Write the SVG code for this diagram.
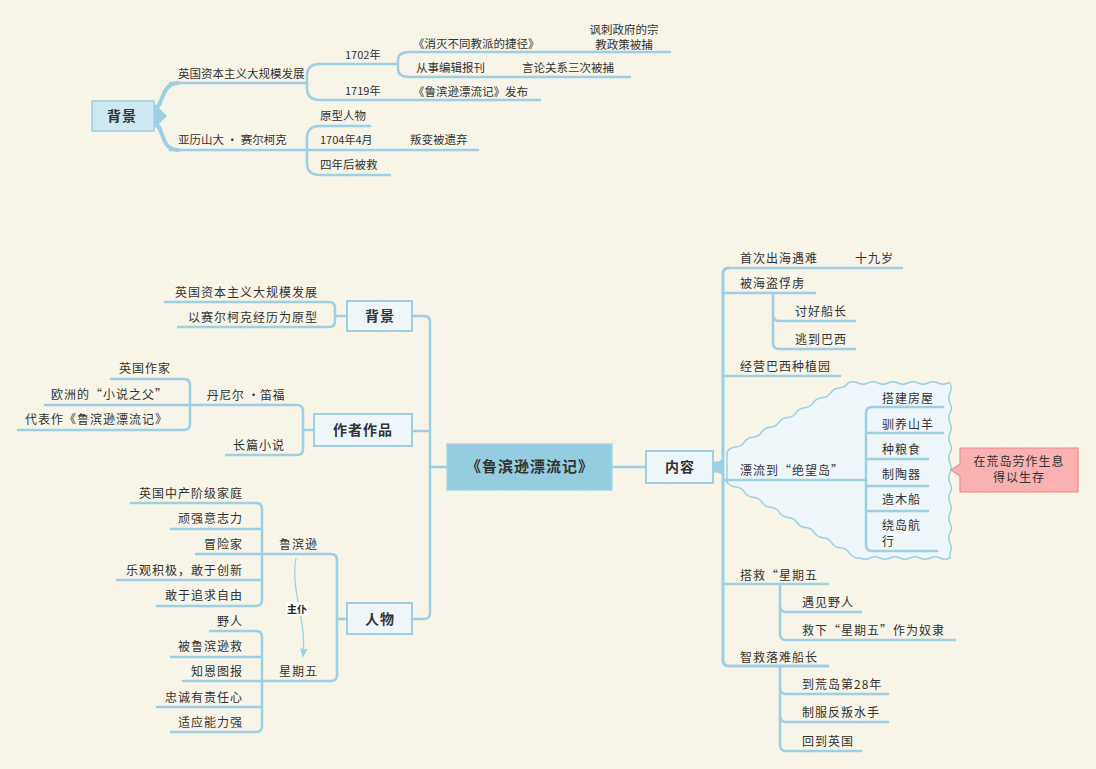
<svg xmlns="http://www.w3.org/2000/svg" width="1096" height="769" viewBox="0 0 1096 769">
<defs>
<style>
.ln{fill:none;stroke:#9dd0e2;stroke-width:2.5;stroke-linecap:round;stroke-linejoin:round}
.t{font-family:"Noto Sans CJK SC","Noto Sans",sans-serif;font-size:12px;fill:#333;letter-spacing:1px}
.ts{font-family:"Noto Sans CJK SC","Noto Sans",sans-serif;font-size:11.5px;fill:#333}
.e{text-anchor:end}
.m{text-anchor:middle}
.box{fill:#eef6fa;stroke:#9dd0e2;stroke-width:2}
.bt{font-family:"Noto Sans CJK SC","Noto Sans",sans-serif;font-size:14px;font-weight:bold;fill:#333;text-anchor:middle;letter-spacing:1px}
</style>
<marker id="arr" viewBox="0 0 10 10" refX="8" refY="5" markerWidth="7" markerHeight="7" orient="auto">
<path d="M0,1 L10,5 L0,9 Z" fill="#9dd0e2"/>
</marker>
<filter id="noise" x="0" y="0" width="100%" height="100%">
<feTurbulence type="fractalNoise" baseFrequency="0.9" numOctaves="2" seed="3"/>
<feColorMatrix type="matrix" values="0 0 0 0 0.6  0 0 0 0 0.55  0 0 0 0 0.45  0 0 0 0.08 0"/>
</filter>
</defs>
<rect width="1096" height="769" fill="#f9f6ea"/>
<rect width="1096" height="769" filter="url(#noise)"/>

<g id="connectors">
<!-- top section -->
<path d="M154,103 L167,116 L154,129 Z" fill="#9dd0e2"/>
<path class="ln" style="stroke-width:4" d="M155,108 C164,106 160,84 178,83"/>
<path class="ln" style="stroke-width:4" d="M155,124 C164,126 160,150 178,150"/>
<path class="ln" d="M170,83 L307,83"/>
<path class="ln" d="M320,64 Q307,64 307,76 L307,88 Q307,100 320,100 L540,100"/>
<path class="ln" d="M320,64 L398,64"/>
<path class="ln" d="M410,52 Q398,52 398,60 L398,69 Q398,77 410,77 L630,77"/>
<path class="ln" d="M410,52 L670,52"/>
<path class="ln" d="M170,150 L478,150"/>
<path class="ln" d="M320,126 Q307,126 307,138 L307,163 Q307,175 320,175 L390,175"/>
<path class="ln" d="M320,126 L370,126"/>
<!-- main left -->
<path class="ln" d="M413,316 L424,316 Q430,316 430,322 L430,613 Q430,619 424,619 L413,619"/>
<path class="ln" d="M413,431 L430,431"/>
<path class="ln" d="M430,467 L447,467"/>
<path class="ln" d="M347,316 L335,316"/>
<path class="ln" d="M165,302 L329,302 Q335,302 335,308 L335,321 Q335,327 329,327 L178,327"/>
<path class="ln" d="M314,430 L303,430"/>
<path class="ln" d="M45,405 L297,405 Q303,405 303,411 L303,449 Q303,455 297,455 L226,455"/>
<path class="ln" d="M111,379 L184,379 Q190,379 190,385 L190,424 Q190,430 184,430 L18,430"/>
<path class="ln" d="M347,619 L337,619"/>
<path class="ln" d="M196,554 L331,554 Q337,554 337,560 L337,675 Q337,681 331,681 L183,681"/>
<path class="ln" d="M131,503 L256,503 Q262,503 262,509 L262,600 Q262,606 256,606 L157,606"/>
<path class="ln" d="M171,529 L262,529"/>
<path class="ln" d="M117,580 L262,580"/>
<path class="ln" d="M210,631 L256,631 Q262,631 262,637 L262,726 Q262,732 256,732 L171,732"/>
<path class="ln" d="M171,657 L262,657"/>
<path class="ln" d="M157,707 L262,707"/>
<path d="M296,558 C290,590 307,620 303,656" fill="none" stroke="#9dd0e2" stroke-width="1.3" marker-end="url(#arr)"/>
<!-- main right -->
<path class="ln" d="M612,467 L646,467"/>
<path d="M713,461 Q719,463 723,458 L723,476 Q719,471 713,473 Z" fill="#9dd0e2"/>
<path d="M727,452 q3.08,-4.63 8.64,-4.93 t8.64,-4.93 t8.64,-4.93 t8.64,-4.93 t8.64,-4.93 t8.64,-4.93 t8.64,-4.93 t8.64,-4.93 t8.64,-4.93 t8.64,-4.93 t8.64,-4.93 t8.64,-4.93 t8.64,-4.93 t8.64,-4.93 q5,-2.5 10,0 t10,0 t10,0 t10,0 t10,0 t10,0 t10,0 t10,0 t10,0 t10,0 L950,383 q2.5,5 0,10 t0,10 t0,10 t0,10 t0,10 t0,10 t0,10 t0,10 t0,10 t0,10 t0,10 t0,10 t0,10 t0,10 t0,10 t0,10 t0,10 L950,558 q-5,2.5 -10,0 t-10,0 t-10,0 t-10,0 t-10,0 t-10,0 t-10,0 t-10,0 t-10,0 L858,558 q-5.63,-0.36 -8.73,-5.07 t-8.73,-5.07 t-8.73,-5.07 t-8.73,-5.07 t-8.73,-5.07 t-8.73,-5.07 t-8.73,-5.07 t-8.73,-5.07 t-8.73,-5.07 t-8.73,-5.07 t-8.73,-5.07 t-8.73,-5.07 t-8.73,-5.07 t-8.73,-5.07 t-8.73,-5.07 L727,482 Z" fill="#eef6fa" stroke="#9dd0e2" stroke-width="1.5"/>
<path class="ln" style="stroke-width:3" d="M729,268 Q723,268 723,274 L723,660 Q723,666 729,666 L828,666"/>
<path class="ln" d="M729,268 L902,268"/>
<path class="ln" d="M723,293 L815,293"/>
<path class="ln" d="M723,376 L840,376"/>
<path class="ln" d="M723,480 L866,480"/>
<path class="ln" d="M723,584 L828,584"/>
<path class="ln" d="M773,293 L773,343 Q773,349 779,349 L855,349"/>
<path class="ln" d="M773,315 Q773,321 779,321 L855,321"/>
<path class="ln" d="M780,584 L780,634 Q780,640 786,640 L955,640"/>
<path class="ln" d="M780,606 Q780,612 786,612 L861,612"/>
<path class="ln" d="M780,666 L780,745 Q780,751 786,751 L861,751"/>
<path class="ln" d="M780,688 Q780,694 786,694 L888,694"/>
<path class="ln" d="M780,716 Q780,722 786,722 L888,722"/>
<path class="ln" d="M872,407 Q866,407 866,413 L866,545 Q866,551 872,551 L937,551"/>
<path class="ln" d="M872,407 L943,407"/>
<path class="ln" d="M866,433 L943,433"/>
<path class="ln" d="M866,459 L928,459"/>
<path class="ln" d="M866,486 L928,486"/>
<path class="ln" d="M866,511 L928,511"/>
</g>

<g id="top-bg">
<rect x="92" y="101" width="62" height="30" fill="#cde8f0" stroke="#9dd0e2" stroke-width="1.5"/>
<text class="bt" x="122" y="121">背景</text>
</g>
<g id="top-texts">
<text class="ts" x="178" y="78">英国资本主义大规模发展</text>
<text class="ts" x="178" y="144">亚历山大 · 赛尔柯克</text>
<text class="ts" x="345" y="59" style="font-size:11px">1702年</text>
<text class="ts" x="345" y="95" style="font-size:11px">1719年</text>
<text class="ts" x="413" y="48">《消灭不同教派的捷径》</text>
<text class="ts m" x="624" y="34">讽刺政府的宗</text>
<text class="ts m" x="624" y="49">教政策被捕</text>
<text class="ts" x="416" y="72">从事编辑报刊</text>
<text class="ts" x="522" y="72">言论关系三次被捕</text>
<text class="ts" x="413" y="96">《鲁滨逊漂流记》发布</text>
<text class="ts" x="320" y="120">原型人物</text>
<text class="ts" x="320" y="144" style="font-size:11px">1704年4月</text>
<text class="ts" x="410" y="144">叛变被遗弃</text>
<text class="ts" x="320" y="169">四年后被救</text>
</g>

<g id="root">
<rect x="447" y="444" width="165" height="46" fill="#95cde0" stroke="#a6d5e6" stroke-width="1.5"/>
<text class="bt" x="530" y="472" style="font-size:15px">《鲁滨逊漂流记》</text>
</g>
<g id="n-bg">
<rect class="box" x="347" y="301" width="65" height="30"/>
<text class="bt" x="380" y="321">背景</text>
<text class="t e" x="318" y="297">英国资本主义大规模发展</text>
<text class="t e" x="318" y="322">以赛尔柯克经历为原型</text>
</g>
<g id="n-author">
<rect class="box" x="314" y="414" width="98" height="32"/>
<text class="bt" x="363" y="435">作者作品</text>
<text class="t e" x="285" y="400" style="letter-spacing:0.5px">丹尼尔 ·笛福</text>
<text class="t e" x="285" y="450">长篇小说</text>
<text class="t e" x="171" y="373">英国作家</text>
<text class="t e" x="168" y="399">欧洲的“小说之父”</text>
<text class="t e" x="168" y="424">代表作《鲁滨逊漂流记》</text>
</g>
<g id="n-people">
<rect class="box" x="347" y="603" width="65" height="31"/>
<text class="bt" x="380" y="624">人物</text>
<text class="t e" x="318" y="549">鲁滨逊</text>
<text class="t e" x="318" y="676">星期五</text>
<text class="t e" x="243" y="498">英国中产阶级家庭</text>
<text class="t e" x="243" y="523">顽强意志力</text>
<text class="t e" x="243" y="549">冒险家</text>
<text class="t e" x="243" y="575">乐观积极，敢于创新</text>
<text class="t e" x="243" y="600">敢于追求自由</text>
<text class="t e" x="243" y="626">野人</text>
<text class="t e" x="243" y="651">被鲁滨逊救</text>
<text class="t e" x="243" y="676">知恩图报</text>
<text class="t e" x="243" y="702">忠诚有责任心</text>
<text class="t e" x="243" y="727">适应能力强</text>
</g>
<g id="rel">
<rect x="286" y="602" width="22" height="14" fill="#ffffff"/>
<text x="297" y="613" text-anchor="middle" style="font-family:'Noto Sans CJK SC',sans-serif;font-size:10px;font-weight:bold;fill:#222">主仆</text>
</g>
<g id="n-content">
<rect class="box" x="646" y="451" width="67" height="32"/>
<text class="bt" x="680" y="472">内容</text>
<text class="t" x="740" y="263">首次出海遇难</text>
<text class="t" x="855" y="263">十九岁</text>
<text class="t" x="740" y="288">被海盗俘虏</text>
<text class="t" x="795" y="316">讨好船长</text>
<text class="t" x="795" y="344">逃到巴西</text>
<text class="t" x="740" y="371">经营巴西种植园</text>
<text class="t" x="740" y="475">漂流到“绝望岛”</text>
<text class="t" x="882" y="403">搭建房屋</text>
<text class="t" x="882" y="429">驯养山羊</text>
<text class="t" x="882" y="454">种粮食</text>
<text class="t" x="882" y="479">制陶器</text>
<text class="t" x="882" y="504">造木船</text>
<text class="t" x="882" y="530">绕岛航</text>
<text class="t" x="882" y="546">行</text>
<text class="t" x="740" y="580">搭救“星期五</text>
<text class="t" x="802" y="607">遇见野人</text>
<text class="t" x="802" y="635">救下“星期五”作为奴隶</text>
<text class="t" x="740" y="662">智救落难船长</text>
<text class="t" x="802" y="689">到荒岛第28年</text>
<text class="t" x="802" y="717">制服反叛水手</text>
<text class="t" x="802" y="746">回到英国</text>
</g>
<g id="callout">
<path d="M960,448 L1078,448 L1078,492 L960,492 L960,476 L951,470 L960,464 Z" fill="#f9b1b1" stroke="#ef8c8c" stroke-width="1.2"/>
<text class="t m" x="1019" y="466">在荒岛劳作生息</text>
<text class="t m" x="1019" y="482">得以生存</text>
</g>
</svg>
